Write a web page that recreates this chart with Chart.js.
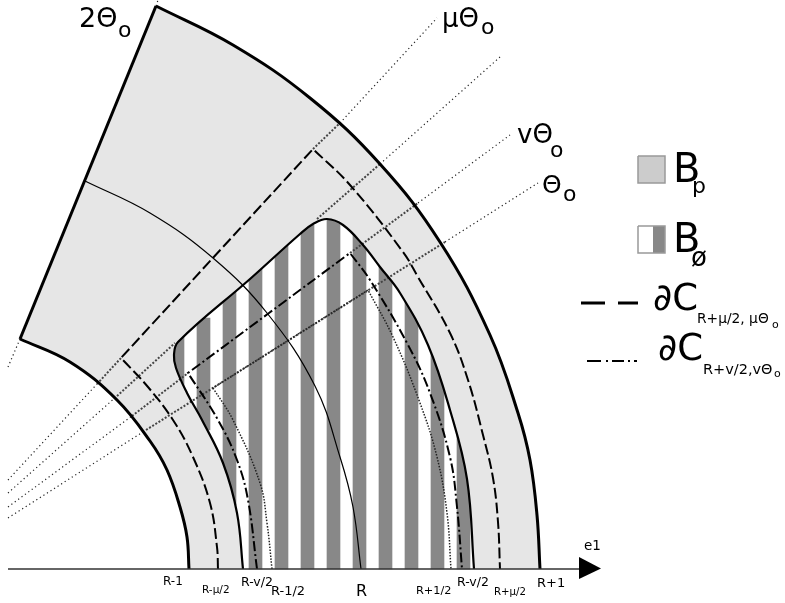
<!DOCTYPE html>
<html>
<head>
<meta charset="utf-8">
<style>
  html, body { margin: 0; padding: 0; background: #fff; }
  canvas { display: block; }
</style>
<script src="https://cdn.jsdelivr.net/npm/chart.js@4/dist/chart.umd.min.js"></script>
</head>
<body>
<canvas id="chart" width="785" height="603"></canvas>
<script>
// values, in the picture's own x / y units
const outerArcX = [156, 233, 310, 380, 440, 490, 518, 530, 537, 540];
const outerArcY = [6, 45, 98, 164, 242, 335, 413, 460, 515, 569];
const innerArcX = [20, 70, 117, 150, 167, 180, 187, 189];
const innerArcY = [339, 362, 400, 441, 470, 507, 537, 569];
const midArcX = [85, 150, 213, 267, 315, 340, 353, 361];
const midArcY = [181, 213, 258, 313, 386, 457, 507, 569];
const contourX = [243, 237, 223, 202, 187, 176, 174, 178, 250, 300, 313, 327, 343, 363, 380, 400, 428, 450, 467, 474];
const contourY = [569, 513, 463, 420, 393, 368, 355, 342, 279, 234, 224, 219, 225, 245, 267, 293, 345, 410, 479, 569];
const muCurveX = [218, 217, 210, 193, 173, 148, 121, 121, 313, 313, 350, 403, 418, 450, 468, 483, 493, 498, 500];
const muCurveY = [569, 547, 503, 457, 420, 387, 358, 358, 149, 149, 185, 252, 277, 333, 380, 435, 478, 522, 569];
const nuCurveX = [257, 248, 237, 218, 188, 188, 350, 350, 370, 407, 430, 450, 457, 462];
const nuCurveY = [569, 500, 460, 420, 373, 373, 253, 253, 280, 343, 393, 457, 507, 569];
const dottedCurveX = [272, 267, 260, 233, 213, 213, 368, 368, 393, 420, 437, 447, 451];
const dottedCurveY = [569, 523, 483, 420, 388, 388, 290, 290, 337, 403, 457, 513, 569];
const edgeX = [156, 20];
const edgeY = [6, 339];

const thinRaysX = [8, 97, null, 340, 437, null, 8, 117, null, 380, 500, null, 8, 132, null, 418, 510, null, 8, 146, null, 445, 538, null, 8, 20, null, 156, 158];
const thinRaysY = [480, 384, null, 123, 18, null, 493, 396, null, 164, 57, null, 507, 416, null, 203, 135, null, 518, 430, null, 242, 183, null, 367, 339, null, 6, 0];
const boldRaysX = [97, 121, null, 313, 340, null, 117, 175, null, 317, 380, null, 132, 188, null, 350, 418, null, 146, 445];
const boldRaysY = [384, 358, null, 149, 123, null, 396, 343, null, 219, 164, null, 416, 373, null, 253, 203, null, 430, 242];

const axisX = [8, 580];
const axisY = [569, 569];
const arrowX = [579, 601, 579, 579];
const arrowY = [557, 568.5, 579, 557];

const stripeX = [177.5, 203.5, 229.5, 255.5, 281.5, 307.5, 333.5, 359.5, 385.5, 411.5, 437.5, 463.5];
const stripeTop = [330, 318, 285, 262, 240, 225, 212, 228, 258, 293, 340, 420];
const stripeBottom = [395, 430, 505, 569, 569, 569, 569, 569, 569, 569, 569, 569];

const keyBoxX = [638, 665, 665, 638, 638];
const keyBoxPY = [156, 156, 183, 183, 156];
const keyBoxSY = [226, 226, 253, 253, 226];
const keyHalfX = [653, 665, 665, 653, 653];
const keyDashX = [581, 605, null, 618, 638];
const keyDashY = [303, 303, null, 303, 303];
const keyDotX = [587, 601, null, 606, 608, null, 612, 624, null, 628, 630, null, 634, 637];
const keyDotY = [361, 361, null, 361, 361, null, 361, 361, null, 361, 361, null, 361, 361];

// text, x, baseline y, font size
const labels = [
  ['R-1', 163, 585, 12], ['R-μ/2', 202, 593, 10.5], ['R-v/2', 241, 586, 12.5], ['R-1/2', 271, 595, 13],
  ['R', 356, 596, 16], ['R+1/2', 416, 594, 11.3], ['R-v/2', 457, 586, 12.5], ['R+μ/2', 494, 595, 10.2],
  ['R+1', 537, 587, 13], ['e1', 584, 550, 13.5],
  ['2Θ', 79, 27, 27], ['o', 118, 37, 22],
  ['μΘ', 442, 27, 26], ['o', 481, 34, 22],
  ['vΘ', 517, 143, 26], ['o', 550, 157, 22],
  ['Θ', 542, 193, 25], ['o', 563, 201, 22],
  ['B', 673, 182, 40], ['p', 692, 193, 22],
  ['B', 673, 252, 40], ['ø', 691, 266, 26],
  ['∂C', 653, 310, 37], ['R+μ/2, μΘ', 697, 323, 13.8], ['o', 772, 328, 11],
  ['∂C', 658, 360, 37], ['R+v/2,vΘ', 703, 374, 14.5], ['o', 774, 377, 11]
];

const zip = (xs, ys) => xs.map((x, i) => ({ x: x, y: ys[i] }));

function line(xs, ys, color, width, dash, tension) {
  return {
    type: 'scatter',
    data: zip(xs, ys),
    showLine: true,
    pointRadius: 0,
    borderColor: color,
    borderWidth: width,
    borderDash: dash || [],
    tension: tension === undefined ? 0.4 : tension,
    fill: false
  };
}

function shape(xs, ys, color, tension) {
  return {
    type: 'scatter',
    data: zip(xs, ys),
    showLine: true,
    pointRadius: 0,
    borderWidth: 0,
    backgroundColor: color,
    tension: tension || 0,
    fill: 'shape'
  };
}

// repeating the end points keeps the spline from overshooting at the corners of the ring
const corner = arr => [arr[0], ...arr, arr[arr.length - 1]];
const back = arr => arr.slice().reverse();
const ringX = [...corner(outerArcX), ...corner(back(contourX)), ...corner(back(innerArcX))];
const ringY = [...corner(outerArcY), ...corner(back(contourY)), ...corner(back(innerArcY))];

const textPlugin = {
  id: 'textPlugin',
  afterDraw(chart) {
    const { ctx, scales } = chart;
    ctx.save();
    ctx.fillStyle = '#000';
    ctx.textBaseline = 'alphabetic';
    labels.forEach(([text, x, y, size]) => {
      ctx.font = size + 'px "DejaVu Sans"';
      ctx.fillText(text, scales.x.getPixelForValue(x), scales.y.getPixelForValue(y));
    });
    ctx.restore();
  }
};

// first dataset ends up on top
new Chart(document.getElementById('chart'), {
  data: {
    datasets: [
      shape(arrowX, arrowY, '#000'),
      line(axisX, axisY, '#333', 1.5, [], 0),
      line(outerArcX, outerArcY, '#000', 3),
      line(innerArcX, innerArcY, '#000', 3),
      line(edgeX, edgeY, '#000', 3, [], 0),
      line(midArcX, midArcY, '#000', 1.2),
      line(contourX, contourY, '#000', 2.2),
      line(muCurveX, muCurveY, '#000', 2, [11, 4]),
      line(nuCurveX, nuCurveY, '#000', 2, [10, 3, 2, 3]),
      line(dottedCurveX, dottedCurveY, '#222', 1.5, [1.5, 1.5]),
      line(boldRaysX, boldRaysY, '#444', 2, [2, 1.7], 0),
      line(thinRaysX, thinRaysY, '#222', 1.2, [1.2, 3], 0),
      line(keyDashX, keyDashY, '#000', 3, [], 0),
      line(keyDotX, keyDotY, '#000', 2, [], 0),
      line(keyBoxX, keyBoxPY, '#999', 1.5, [], 0),
      line(keyBoxX, keyBoxSY, '#999', 1.5, [], 0),
      shape(keyBoxX, keyBoxPY, '#cccccc'),
      shape(keyHalfX, keyBoxSY, '#888888'),
      shape(ringX, ringY, '#e6e6e6', 0.4),
      {
        type: 'bar',
        data: stripeX.map((x, i) => ({ x: x, y: [stripeTop[i], stripeBottom[i]] })),
        backgroundColor: '#888888',
        barThickness: 13,
        grouped: false
      }
    ].map((d, i) => Object.assign(d, { order: i }))
  },
  options: {
    responsive: false,
    animation: false,
    layout: { padding: 0 },
    plugins: { legend: { display: false }, tooltip: { enabled: false } },
    scales: {
      x: { type: 'linear', min: 0, max: 785, offset: false, display: false },
      y: { type: 'linear', min: 0, max: 603, reverse: true, display: false }
    }
  },
  plugins: [textPlugin]
});
</script>
</body>
</html>
